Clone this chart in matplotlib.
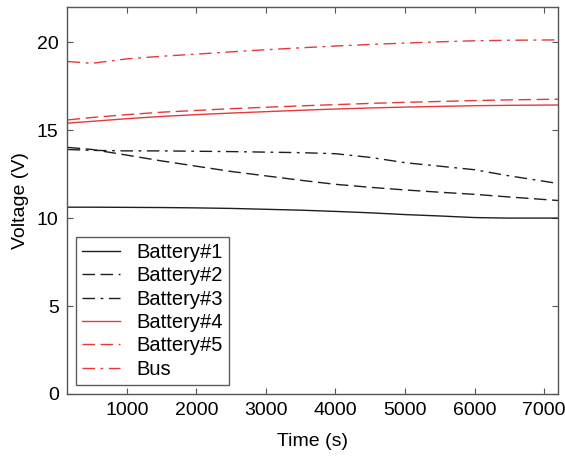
import matplotlib
matplotlib.use("Agg")
import matplotlib.pyplot as plt

time_s = [150, 500, 1000, 1500, 2000, 2500, 3000, 3500, 4000, 4500, 5000, 5500, 6000, 6500, 7200]

battery1 = [10.62, 10.62, 10.61, 10.60, 10.58, 10.55, 10.50, 10.45, 10.38, 10.30, 10.20, 10.12, 10.03, 10.00, 10.00]
battery2 = [14.02, 13.90, 13.58, 13.25, 12.95, 12.65, 12.40, 12.15, 11.92, 11.75, 11.60, 11.47, 11.35, 11.20, 11.00]
battery3 = [13.90, 13.85, 13.82, 13.82, 13.80, 13.78, 13.75, 13.72, 13.66, 13.45, 13.15, 12.95, 12.75, 12.40, 11.97]
battery4 = [15.40, 15.50, 15.65, 15.78, 15.88, 15.97, 16.05, 16.13, 16.20, 16.26, 16.31, 16.35, 16.39, 16.41, 16.43]
battery5 = [15.58, 15.72, 15.88, 16.02, 16.12, 16.22, 16.30, 16.38, 16.45, 16.52, 16.58, 16.63, 16.68, 16.72, 16.76]
bus = [18.90, 18.80, 19.05, 19.20, 19.32, 19.45, 19.57, 19.68, 19.78, 19.87, 19.95, 20.02, 20.08, 20.11, 20.13]

labels = ["Battery#1", "Battery#2", "Battery#3", "Battery#4", "Battery#5", "Bus"]
xticks = [1000, 2000, 3000, 4000, 5000, 6000, 7000]
yticks = [0, 5, 10, 15, 20]

plt.rcParams['font.family'] = ['Liberation Sans', 'DejaVu Sans']
fig = plt.figure(figsize=(5.65, 4.58), dpi=100)
ax = fig.add_axes([67/565, 1 - 394/458, (558 - 67)/565, (394 - 7)/458])

red = '#e8383a'
black = '#1e1e1e'
lw = 1.0
ax.plot(time_s, battery1, color=black, lw=lw, ls='-', label=labels[0])
ax.plot(time_s, battery2, color=black, lw=lw, ls=(0, (9, 4)), label=labels[1])
ax.plot(time_s, battery3, color=black, lw=lw, ls=(0, (9, 4, 2, 4)), label=labels[2])
ax.plot(time_s, battery4, color=red, lw=lw, ls='-', label=labels[3])
ax.plot(time_s, battery5, color=red, lw=lw, ls=(0, (9, 4)), label=labels[4])
ax.plot(time_s, bus, color=red, lw=lw, ls=(0, (9, 4, 2, 4)), label=labels[5])

ax.set_xlim(140, 7200)
ax.set_ylim(0, 22)
ax.set_xticks(xticks)
ax.set_yticks(yticks)
ax.tick_params(direction='in', labelsize=14, length=4, top=True, right=True, color='#555555', pad=6)
for s in ax.spines.values():
    s.set_color('#555555')
    s.set_linewidth(1.0)
ax.set_xlabel("Time (s)", fontsize=14, labelpad=10)
ax.set_ylabel("Voltage (V)", fontsize=14, labelpad=6)

leg = ax.legend(loc='lower left', fontsize=14.5, frameon=True, fancybox=False,
                edgecolor='#333333', borderpad=0.3, labelspacing=0.22,
                handlelength=1.9, handletextpad=0.8, borderaxespad=0.45)
leg.get_frame().set_linewidth(1.0)

fig.savefig("out.png", dpi=100)
